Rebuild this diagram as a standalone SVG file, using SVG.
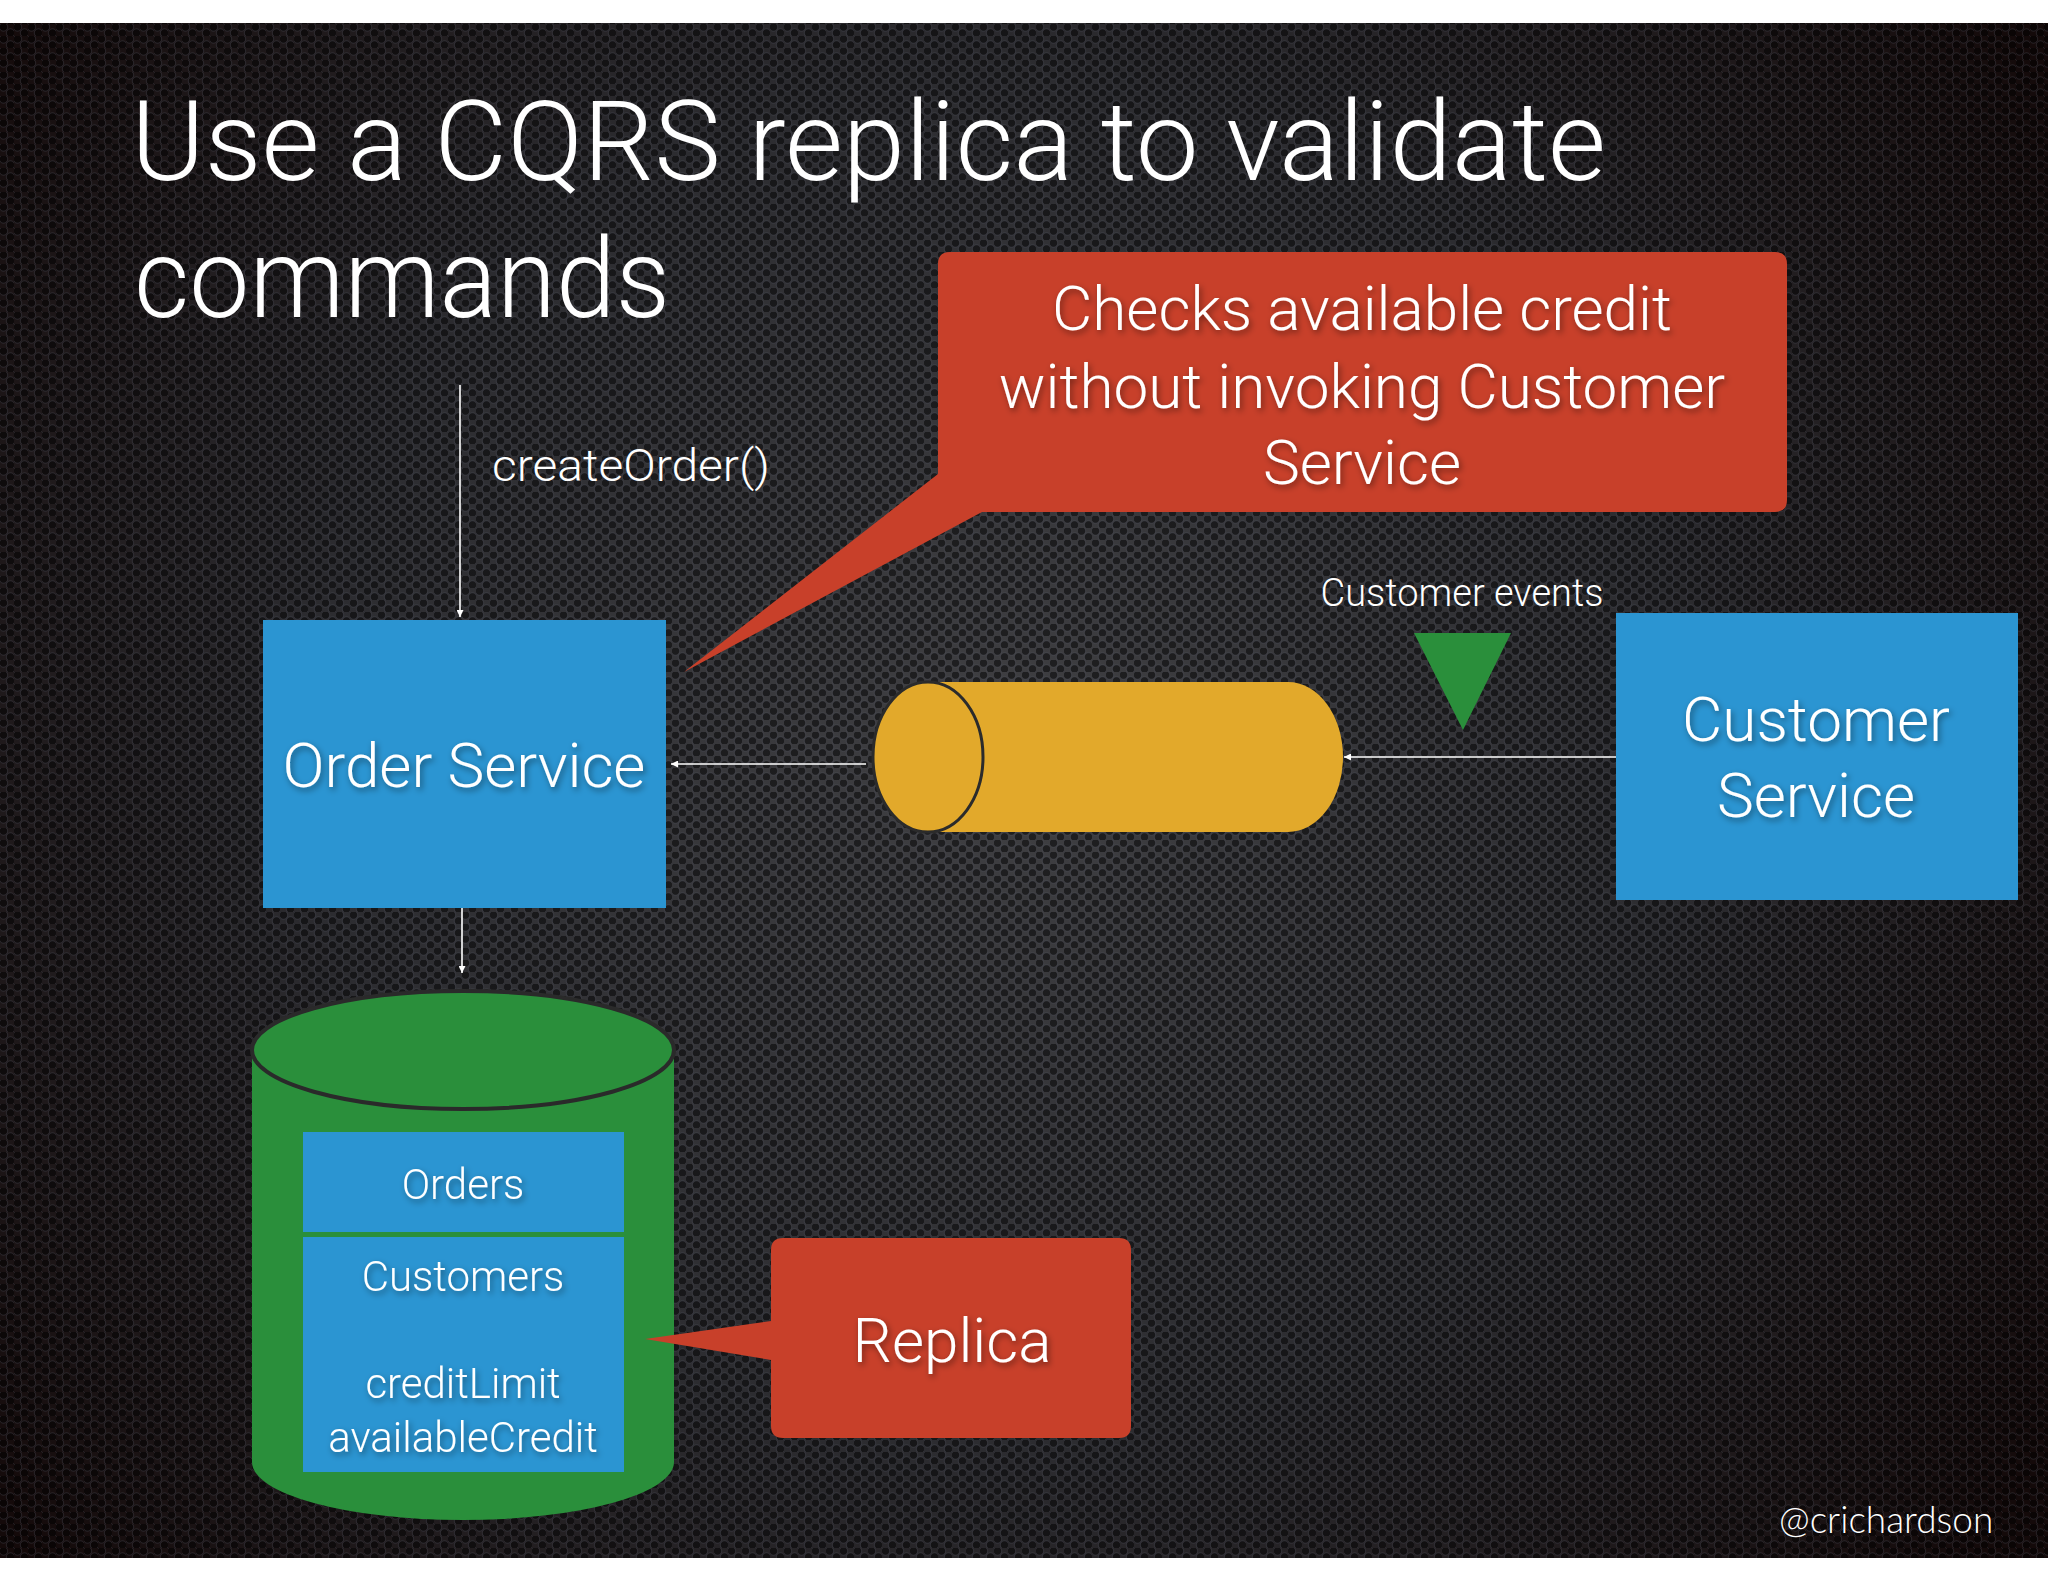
<svg xmlns="http://www.w3.org/2000/svg" width="2048" height="1582" viewBox="0 0 2048 1582">
<style>
.lt{font-family:"Helvetica Neue",Roboto,"Liberation Sans",sans-serif;font-weight:300;fill:#ffffff}
.big{font-size:62px}
.mid{font-size:42px}
.sm{font-size:38px}
.ttl{font-size:112px}
.blue{fill:#2b95d2}
.red{fill:#c8402a}
.yel{fill:#e2a92b}
.grn{fill:#2a8f3b}
.conn{stroke:#ffffff;stroke-width:1.6;fill:none}
</style>
<defs>
<radialGradient id="bg" cx="1000" cy="760" r="1250" gradientUnits="userSpaceOnUse">
<stop offset="0" stop-color="#404043"/>
<stop offset="0.55" stop-color="#2c2c30"/>
<stop offset="1" stop-color="#140a0a"/>
</radialGradient>
<pattern id="holes" width="14" height="12" patternUnits="userSpaceOnUse">
<circle cx="3.5" cy="3" r="4.2" fill="#000" fill-opacity="0.5" stroke="#8a90a4" stroke-opacity="0.18" stroke-width="1"/>
<circle cx="10.5" cy="9" r="4.2" fill="#000" fill-opacity="0.5" stroke="#8a90a4" stroke-opacity="0.18" stroke-width="1"/>
</pattern>
<filter id="sh" x="-20%" y="-20%" width="140%" height="140%">
<feDropShadow dx="2" dy="3" stdDeviation="3" flood-color="#000" flood-opacity="0.45"/>
</filter>
<marker id="ah" viewBox="0 0 10 10" refX="10" refY="5" markerWidth="7" markerHeight="7" markerUnits="userSpaceOnUse" orient="auto">
<path d="M0,0 L10,5 L0,10 Z" fill="#ffffff"/>
</marker>
</defs>

<rect x="0" y="0" width="2048" height="1582" fill="#ffffff"/>
<rect x="0" y="23" width="2048" height="1535" fill="url(#bg)"/>
<rect x="0" y="23" width="2048" height="1535" fill="url(#holes)"/>

<g id="title">
<text class="lt ttl" x="131" y="180" textLength="1475" lengthAdjust="spacingAndGlyphs">Use a CQRS replica to validate</text>
<text class="lt ttl" x="134" y="317" textLength="536" lengthAdjust="spacingAndGlyphs">commands</text>
</g>

<g id="connectors">
<line class="conn" x1="460" y1="385" x2="460" y2="617" marker-end="url(#ah)"/>
<line class="conn" x1="866" y1="764" x2="671" y2="764" marker-end="url(#ah)"/>
<line class="conn" x1="1616" y1="757" x2="1344" y2="757" marker-end="url(#ah)"/>
<line class="conn" x1="462" y1="908" x2="462" y2="973" marker-end="url(#ah)"/>
<text class="lt" font-size="44" x="492" y="481" textLength="278" lengthAdjust="spacingAndGlyphs">createOrder()</text>
</g>

<g id="callout-credit">
<path class="red" d="M950,252 H1775 Q1787,252 1787,264 V500 Q1787,512 1775,512 H982 L684,672 L938,474 V264 Q938,252 950,252 Z"/>
<g filter="url(#sh)" text-anchor="middle">
<text class="lt big" x="1362" y="330">Checks available credit</text>
<text class="lt big" x="1362" y="408">without invoking Customer</text>
<text class="lt big" x="1362" y="484">Service</text>
</g>
</g>

<g id="order-service">
<rect class="blue" x="263" y="620" width="403" height="288"/>
<text class="lt big" x="464" y="787" text-anchor="middle" filter="url(#sh)">Order Service</text>
</g>

<g id="event-channel">
<path class="yel" d="M928,682 H1288 A55,75 0 0 1 1288,832 H928 Z"/>
<ellipse class="yel" cx="928" cy="757" rx="55" ry="75" stroke="#2b2b2b" stroke-width="3"/>
</g>

<g id="customer-events">
<polygon class="grn" points="1414,633 1511,633 1463,730"/>
<text class="lt sm" x="1462" y="606" text-anchor="middle">Customer events</text>
</g>

<g id="customer-service">
<rect class="blue" x="1616" y="613" width="402" height="287"/>
<g filter="url(#sh)" text-anchor="middle">
<text class="lt big" x="1816" y="741">Customer</text>
<text class="lt big" x="1816" y="817">Service</text>
</g>
</g>

<g id="database">
<path class="grn" d="M252,1050 V1462 A211,58 0 0 0 674,1462 V1050 Z"/>
<ellipse class="grn" cx="463" cy="1050" rx="211" ry="59" stroke="#2a2a2a" stroke-width="4"/>
<rect class="blue" x="303" y="1132" width="321" height="100"/>
<rect class="blue" x="303" y="1237" width="321" height="235"/>
<g filter="url(#sh)" text-anchor="middle">
<text class="lt mid" x="463" y="1199">Orders</text>
<text class="lt mid" x="463" y="1291">Customers</text>
<text class="lt mid" x="463" y="1398">creditLimit</text>
<text class="lt mid" x="463" y="1452">availableCredit</text>
</g>
</g>

<g id="callout-replica">
<path class="red" d="M783,1238 H1119 Q1131,1238 1131,1250 V1426 Q1131,1438 1119,1438 H783 Q771,1438 771,1426 V1360 L645,1339 L771,1321 V1250 Q771,1238 783,1238 Z"/>
<text class="lt big" x="952" y="1362" text-anchor="middle" filter="url(#sh)">Replica</text>
</g>

<text x="1779" y="1533" font-family="Lato,'Open Sans',sans-serif" font-weight="300" font-size="37" fill="#ffffff">@crichardson</text>
</svg>
